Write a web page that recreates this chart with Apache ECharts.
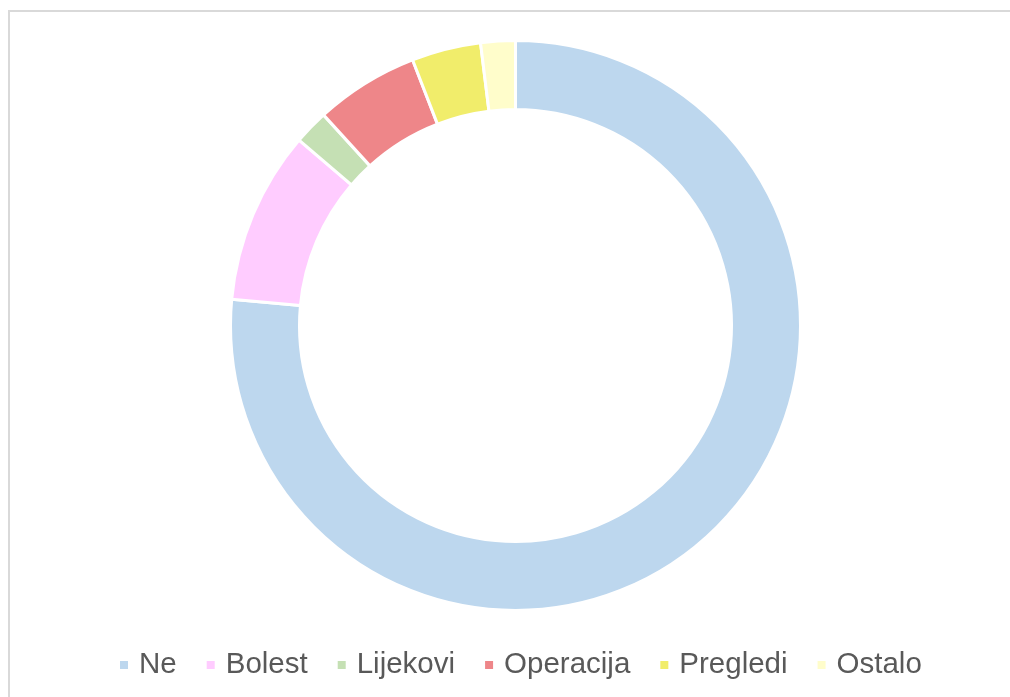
<!DOCTYPE html>
<html>
<head>
<meta charset="utf-8">
<script src="https://cdn.jsdelivr.net/npm/echarts@6/dist/echarts.min.js"></script>
<style>
html,body{margin:0;padding:0;background:#fff;}
#chart{width:1010px;height:697px;}
</style>
</head>
<body>
<div id="chart"></div>
<script>
const categories = ['Ne', 'Bolest', 'Lijekovi', 'Operacija', 'Pregledi', 'Ostalo'];
const values = [39, 5, 1, 3, 2, 1];
const colors = ['#BDD7EE', '#FFCCFF', '#C5E0B4', '#EE8689', '#F1ED6B', '#FFFDCB'];

const chart = echarts.init(document.getElementById('chart'), null, {renderer: 'canvas'});
chart.setOption({
  animation: false,
  backgroundColor: '#ffffff',
  graphic: [{
    type: 'rect',
    shape: {x: 9, y: 11, width: 1100, height: 800},
    style: {fill: 'none', stroke: '#D9D9D9', lineWidth: 2},
    silent: true
  }],
  legend: {
    data: categories,
    left: 113,
    top: 645,
    icon: 'rect',
    itemWidth: 10,
    itemHeight: 10,
    itemGap: 28,
    textStyle: {
      fontFamily: 'Liberation Sans',
      fontSize: 29.5,
      color: '#595959',
      padding: [0, 0, 0, 5]
    }
  },
  series: [{
    type: 'pie',
    center: [515.5, 325.5],
    radius: [216, 285],
    startAngle: 90,
    clockwise: true,
    label: {show: false},
    labelLine: {show: false},
    itemStyle: {borderColor: '#ffffff', borderWidth: 3},
    emphasis: {disabled: true},
    data: categories.map((c, i) => ({name: c, value: values[i], itemStyle: {color: colors[i]}}))
  }]
});
</script>
</body>
</html>
